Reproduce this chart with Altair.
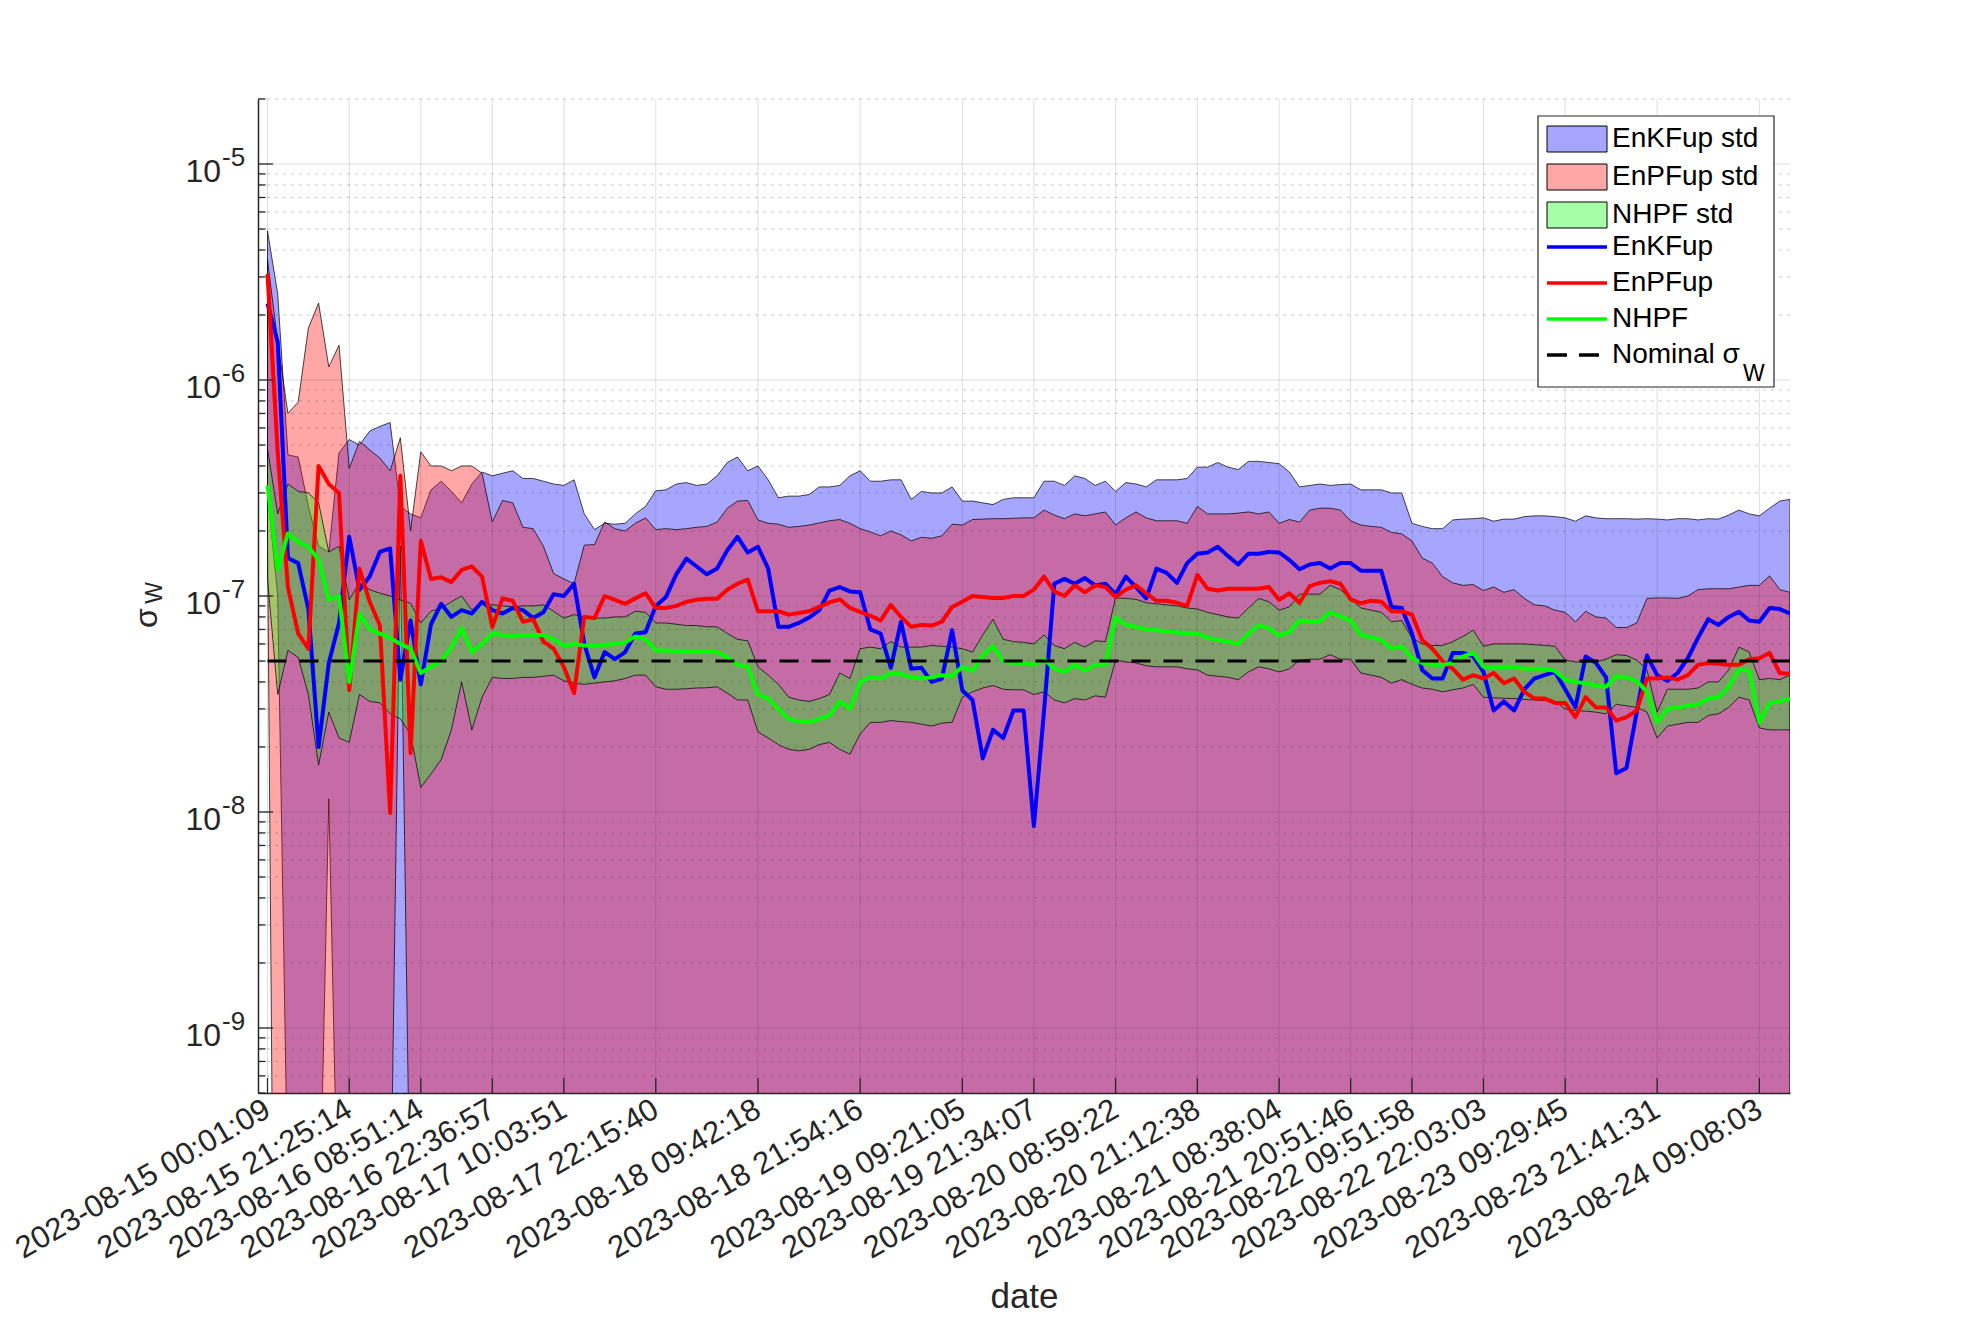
import altair as alt
import pandas as pd

FONT = "Liberation Sans"
N = 150
idx = list(range(N))

# ---- series (sample index 0..149) ----
enkf = [2.26e-6, 1.5e-6, 1.5e-7, 1.42e-7, 8.7e-8, 2.0e-8, 4.9e-8, 7.5e-8, 1.88e-7, 1.07e-7,
        1.23e-7, 1.6e-7, 1.66e-7, 4.1e-8, 7.7e-8, 3.9e-8, 7.4e-8, 9.2e-8, 8.0e-8, 8.6e-8,
        8.3e-8, 9.4e-8, 8.6e-8, 8.3e-8, 8.8e-8, 8.6e-8, 7.9e-8, 8.4e-8, 1.02e-7, 1.0e-7,
        1.14e-7, 6.0e-8, 4.2e-8, 5.5e-8, 5.1e-8, 5.5e-8, 6.7e-8, 6.8e-8, 9.0e-8, 9.9e-8,
        1.26e-7, 1.49e-7, 1.37e-7, 1.26e-7, 1.34e-7, 1.63e-7, 1.88e-7, 1.59e-7, 1.69e-7, 1.34e-7,
        7.2e-8, 7.2e-8, 7.5e-8, 7.95e-8, 8.6e-8, 1.06e-7, 1.1e-7, 1.05e-7, 1.04e-7, 7.0e-8,
        6.7e-8, 4.65e-8, 7.6e-8, 4.6e-8, 4.65e-8, 4.0e-8, 4.15e-8, 6.95e-8, 3.65e-8, 3.3e-8,
        1.77e-8, 2.4e-8, 2.2e-8, 2.95e-8, 2.95e-8, 8.6e-9, 2.95e-8, 1.14e-7, 1.2e-7, 1.14e-7,
        1.21e-7, 1.12e-7, 1.14e-7, 1.02e-7, 1.23e-7, 1.1e-7, 9.75e-8, 1.34e-7, 1.28e-7, 1.15e-7,
        1.42e-7, 1.57e-7, 1.59e-7, 1.69e-7, 1.53e-7, 1.4e-7, 1.57e-7, 1.57e-7, 1.6e-7, 1.59e-7,
        1.47e-7, 1.33e-7, 1.4e-7, 1.42e-7, 1.34e-7, 1.42e-7, 1.42e-7, 1.31e-7, 1.31e-7, 1.31e-7,
        8.9e-8, 8.8e-8, 6.7e-8, 4.55e-8, 4.15e-8, 4.15e-8, 5.45e-8, 5.45e-8, 5.25e-8, 4.45e-8,
        2.95e-8, 3.25e-8, 2.95e-8, 3.7e-8, 4.15e-8, 4.3e-8, 4.45e-8, 3.7e-8, 3.05e-8, 5.25e-8,
        4.9e-8, 4.2e-8, 1.51e-8, 1.6e-8, 2.9e-8, 5.3e-8, 4.3e-8, 4.05e-8, 4.4e-8, 5.15e-8,
        6.4e-8, 7.8e-8, 7.35e-8, 8.0e-8, 8.45e-8, 7.7e-8, 7.6e-8, 8.8e-8, 8.7e-8, 8.3e-8]

enpf = [3.1e-6, 4.6e-7, 1.1e-7, 6.7e-8, 5.7e-8, 4.0e-7, 3.3e-7, 3.0e-7, 3.67e-8, 1.34e-7,
        9.4e-8, 7.3e-8, 9.9e-9, 3.6e-7, 1.87e-8, 1.8e-7, 1.2e-7, 1.22e-7, 1.16e-7, 1.32e-7,
        1.37e-7, 1.23e-7, 7.2e-8, 9.75e-8, 9.5e-8, 7.6e-8, 7.8e-8, 6.15e-8, 5.7e-8, 4.7e-8,
        3.55e-8, 8.0e-8, 7.9e-8, 1.0e-7, 9.6e-8, 9.2e-8, 9.75e-8, 1.03e-7, 8.8e-8, 8.8e-8,
        9.0e-8, 9.4e-8, 9.6e-8, 9.7e-8, 9.7e-8, 1.07e-7, 1.14e-7, 1.19e-7, 8.5e-8, 8.5e-8,
        8.5e-8, 8.2e-8, 8.35e-8, 8.5e-8, 8.9e-8, 9.35e-8, 9.65e-8, 8.8e-8, 8.45e-8, 8.1e-8,
        7.7e-8, 9.1e-8, 8.0e-8, 7.2e-8, 7.35e-8, 7.3e-8, 7.6e-8, 8.9e-8, 9.4e-8, 1.0e-7,
        9.9e-8, 9.8e-8, 9.8e-8, 1.0e-7, 1.0e-7, 1.07e-7, 1.23e-7, 1.05e-7, 1.0e-7, 1.12e-7,
        1.04e-7, 1.12e-7, 1.1e-7, 9.9e-8, 1.07e-7, 1.12e-7, 1.03e-7, 9.5e-8, 9.5e-8, 9.3e-8,
        9.0e-8, 1.25e-7, 1.08e-7, 1.06e-7, 1.08e-7, 1.08e-7, 1.08e-7, 1.08e-7, 1.1e-7, 9.6e-8,
        1.03e-7, 9.3e-8, 1.11e-7, 1.15e-7, 1.17e-7, 1.14e-7, 9.65e-8, 9.25e-8, 9.5e-8, 9.4e-8,
        8.5e-8, 8.5e-8, 8.2e-8, 6.25e-8, 5.7e-8, 5.0e-8, 4.6e-8, 4.1e-8, 4.3e-8, 4.15e-8,
        4.4e-8, 3.95e-8, 4.15e-8, 3.6e-8, 3.35e-8, 3.35e-8, 3.2e-8, 3.2e-8, 2.75e-8, 3.4e-8,
        3.05e-8, 3.05e-8, 2.65e-8, 2.75e-8, 2.95e-8, 4.15e-8, 4.15e-8, 4.2e-8, 4.1e-8, 4.3e-8,
        4.8e-8, 4.9e-8, 4.85e-8, 4.8e-8, 4.8e-8, 5.1e-8, 5.15e-8, 5.45e-8, 4.4e-8, 4.35e-8]

nhpf = [3.26e-7, 1.32e-7, 1.95e-7, 1.78e-7, 1.69e-7, 1.47e-7, 9.6e-8, 1.0e-7, 4.0e-8, 8.3e-8,
        7.0e-8, 6.7e-8, 6.4e-8, 6.0e-8, 5.7e-8, 4.4e-8, 4.7e-8, 5.0e-8, 5.8e-8, 7.1e-8,
        5.5e-8, 6.0e-8, 6.7e-8, 6.6e-8, 6.5e-8, 6.6e-8, 6.6e-8, 6.6e-8, 6.3e-8, 5.9e-8,
        6.0e-8, 5.9e-8, 5.9e-8, 5.95e-8, 6.0e-8, 6.1e-8, 6.5e-8, 6.3e-8, 5.6e-8, 5.6e-8,
        5.55e-8, 5.5e-8, 5.5e-8, 5.5e-8, 5.5e-8, 5.2e-8, 4.8e-8, 4.7e-8, 3.5e-8, 3.35e-8,
        3.0e-8, 2.7e-8, 2.62e-8, 2.6e-8, 2.7e-8, 2.8e-8, 3.25e-8, 3.0e-8, 4.0e-8, 4.2e-8,
        4.15e-8, 4.4e-8, 4.35e-8, 4.2e-8, 4.15e-8, 4.2e-8, 4.3e-8, 4.25e-8, 4.7e-8, 4.5e-8,
        5.3e-8, 5.85e-8, 5.0e-8, 4.9e-8, 4.9e-8, 4.8e-8, 5.1e-8, 4.6e-8, 4.45e-8, 4.8e-8,
        4.5e-8, 4.8e-8, 4.8e-8, 7.95e-8, 7.35e-8, 7.2e-8, 7.0e-8, 6.95e-8, 6.85e-8, 6.8e-8,
        6.7e-8, 6.7e-8, 6.4e-8, 6.25e-8, 6.15e-8, 6.0e-8, 6.7e-8, 7.3e-8, 7.1e-8, 6.55e-8,
        6.8e-8, 7.7e-8, 7.65e-8, 7.65e-8, 8.4e-8, 8.05e-8, 7.7e-8, 6.6e-8, 6.45e-8, 6.25e-8,
        5.7e-8, 5.85e-8, 5.15e-8, 4.9e-8, 4.8e-8, 4.8e-8, 4.9e-8, 5.25e-8, 5.45e-8, 4.7e-8,
        4.65e-8, 4.7e-8, 4.7e-8, 4.6e-8, 4.6e-8, 4.6e-8, 4.5e-8, 4.1e-8, 4.0e-8, 3.95e-8,
        3.85e-8, 3.8e-8, 4.25e-8, 4.2e-8, 4.05e-8, 3.6e-8, 2.6e-8, 3.0e-8, 3.05e-8, 3.1e-8,
        3.15e-8, 3.35e-8, 3.4e-8, 3.8e-8, 4.55e-8, 4.5e-8, 2.6e-8, 3.2e-8, 3.25e-8, 3.35e-8]

enkf_hi = [4.9e-6, 2.5e-6, 4.5e-7, 4.4e-7, 2.6e-7, 1.7e-7, 1.6e-7, 4.6e-7, 5.3e-7, 5.0e-7,
           5.8e-7, 6.1e-7, 6.35e-7, 2.6e-7, 2.4e-7, 2.3e-7, 3.1e-7, 3.4e-7, 3.05e-7, 2.7e-7,
           3.3e-7, 3.75e-7, 3.6e-7, 3.7e-7, 3.8e-7, 3.5e-7, 3.5e-7, 3.4e-7, 3.3e-7, 3.25e-7,
           3.45e-7, 2.4e-7, 2.03e-7, 2.17e-7, 2.15e-7, 2.17e-7, 2.4e-7, 2.6e-7, 3.07e-7, 3.1e-7,
           3.3e-7, 3.35e-7, 3.25e-7, 3.3e-7, 3.6e-7, 4.15e-7, 4.4e-7, 3.8e-7, 4.0e-7, 3.45e-7,
           2.85e-7, 2.9e-7, 2.9e-7, 2.95e-7, 3.2e-7, 3.2e-7, 3.25e-7, 3.6e-7, 3.8e-7, 3.4e-7,
           3.4e-7, 3.45e-7, 3.45e-7, 2.8e-7, 3.05e-7, 3.0e-7, 3.0e-7, 3.2e-7, 2.75e-7, 2.75e-7,
           2.7e-7, 2.65e-7, 2.8e-7, 2.85e-7, 2.85e-7, 2.85e-7, 3.4e-7, 3.4e-7, 3.25e-7, 3.6e-7,
           3.5e-7, 3.25e-7, 3.4e-7, 3.05e-7, 3.35e-7, 3.3e-7, 3.2e-7, 3.45e-7, 3.45e-7, 3.45e-7,
           3.5e-7, 3.95e-7, 3.95e-7, 4.15e-7, 3.95e-7, 3.85e-7, 4.2e-7, 4.2e-7, 4.15e-7, 4.1e-7,
           3.75e-7, 3.2e-7, 3.25e-7, 3.3e-7, 3.25e-7, 3.28e-7, 3.3e-7, 3.1e-7, 3.1e-7, 3.1e-7,
           3.0e-7, 3.0e-7, 2.17e-7, 2.1e-7, 2.05e-7, 2.05e-7, 2.25e-7, 2.27e-7, 2.28e-7, 2.3e-7,
           2.22e-7, 2.27e-7, 2.27e-7, 2.33e-7, 2.35e-7, 2.35e-7, 2.33e-7, 2.3e-7, 2.22e-7, 2.35e-7,
           2.3e-7, 2.28e-7, 2.28e-7, 2.28e-7, 2.27e-7, 2.28e-7, 2.27e-7, 2.25e-7, 2.28e-7, 2.28e-7,
           2.25e-7, 2.28e-7, 2.27e-7, 2.37e-7, 2.5e-7, 2.4e-7, 2.35e-7, 2.55e-7, 2.75e-7, 2.8e-7]

enpf_hi = [3.6e-6, 1.5e-6, 7.0e-7, 7.9e-7, 1.74e-6, 2.27e-6, 1.15e-6, 1.45e-6, 3.9e-7, 5.2e-7,
           4.75e-7, 4.35e-7, 3.8e-7, 5.4e-7, 2.0e-7, 4.65e-7, 4.0e-7, 4.0e-7, 3.8e-7, 4.0e-7,
           4.0e-7, 3.7e-7, 2.2e-7, 2.77e-7, 2.7e-7, 2.08e-7, 2.05e-7, 1.7e-7, 1.27e-7, 1.2e-7,
           1.14e-7, 1.72e-7, 1.73e-7, 2.2e-7, 2.05e-7, 2.0e-7, 2.17e-7, 2.3e-7, 2.03e-7, 2.05e-7,
           2.03e-7, 2.05e-7, 2.08e-7, 2.1e-7, 2.2e-7, 2.55e-7, 2.75e-7, 2.77e-7, 2.25e-7, 2.17e-7,
           2.15e-7, 2.08e-7, 2.1e-7, 2.13e-7, 2.18e-7, 2.23e-7, 2.26e-7, 2.17e-7, 2.05e-7, 1.98e-7,
           1.9e-7, 2.0e-7, 1.92e-7, 1.8e-7, 1.87e-7, 1.85e-7, 1.9e-7, 2.15e-7, 2.13e-7, 2.26e-7,
           2.27e-7, 2.28e-7, 2.28e-7, 2.29e-7, 2.3e-7, 2.3e-7, 2.5e-7, 2.37e-7, 2.28e-7, 2.4e-7,
           2.35e-7, 2.4e-7, 2.45e-7, 2.13e-7, 2.3e-7, 2.45e-7, 2.3e-7, 2.23e-7, 2.23e-7, 2.23e-7,
           2.17e-7, 2.6e-7, 2.4e-7, 2.4e-7, 2.4e-7, 2.42e-7, 2.45e-7, 2.4e-7, 2.45e-7, 2.17e-7,
           2.26e-7, 2.2e-7, 2.5e-7, 2.55e-7, 2.55e-7, 2.5e-7, 2.23e-7, 2.13e-7, 2.1e-7, 2.08e-7,
           1.97e-7, 1.94e-7, 1.8e-7, 1.5e-7, 1.42e-7, 1.23e-7, 1.15e-7, 1.12e-7, 1.13e-7, 1.06e-7,
           1.1e-7, 1.04e-7, 1.07e-7, 9.75e-8, 9.1e-8, 9.0e-8, 8.6e-8, 8.4e-8, 7.6e-8, 8.5e-8,
           8.0e-8, 7.9e-8, 7.15e-8, 7.15e-8, 7.5e-8, 9.75e-8, 9.8e-8, 9.8e-8, 9.75e-8, 1.0e-7,
           1.07e-7, 1.08e-7, 1.08e-7, 1.08e-7, 1.1e-7, 1.12e-7, 1.12e-7, 1.24e-7, 1.07e-7, 1.04e-7]

nhpf_hi = [4.8e-7, 2.4e-7, 3.3e-7, 3.05e-7, 3.0e-7, 2.7e-7, 1.6e-7, 1.7e-7, 9.6e-8, 1.15e-7,
           1.07e-7, 1.03e-7, 1.0e-7, 9.6e-8, 9.25e-8, 7.5e-8, 8.5e-8, 8.8e-8, 9.4e-8, 1.0e-7,
           8.6e-8, 9.3e-8, 9.1e-8, 9.0e-8, 8.9e-8, 9.0e-8, 9.0e-8, 9.1e-8, 8.5e-8, 7.9e-8,
           8.2e-8, 8.0e-8, 7.9e-8, 7.9e-8, 8.0e-8, 8.0e-8, 8.5e-8, 8.4e-8, 7.5e-8, 7.5e-8,
           7.4e-8, 7.3e-8, 7.3e-8, 7.2e-8, 7.2e-8, 6.7e-8, 6.3e-8, 6.2e-8, 4.7e-8, 4.3e-8,
           3.9e-8, 3.4e-8, 3.3e-8, 3.25e-8, 3.35e-8, 3.5e-8, 4.4e-8, 4.15e-8, 5.7e-8, 5.8e-8,
           5.7e-8, 6.15e-8, 5.8e-8, 5.8e-8, 5.8e-8, 5.9e-8, 5.85e-8, 5.8e-8, 5.7e-8, 5.5e-8,
           6.6e-8, 7.8e-8, 6.3e-8, 6.15e-8, 6.1e-8, 6.0e-8, 6.6e-8, 5.9e-8, 5.7e-8, 6.1e-8,
           5.8e-8, 6.2e-8, 6.15e-8, 9.8e-8, 9.75e-8, 9.65e-8, 9.3e-8, 9.2e-8, 9.1e-8, 9.0e-8,
           8.8e-8, 8.7e-8, 8.4e-8, 8.2e-8, 8.0e-8, 7.9e-8, 8.8e-8, 9.75e-8, 9.4e-8, 8.6e-8,
           8.9e-8, 1.02e-7, 1.02e-7, 1.02e-7, 1.12e-7, 1.07e-7, 9.75e-8, 8.8e-8, 8.6e-8, 8.4e-8,
           7.6e-8, 7.7e-8, 6.4e-8, 6.0e-8, 5.9e-8, 5.9e-8, 6.15e-8, 6.5e-8, 6.95e-8, 5.85e-8,
           6.0e-8, 6.0e-8, 6.0e-8, 6.0e-8, 5.95e-8, 5.9e-8, 5.85e-8, 5.05e-8, 4.95e-8, 4.95e-8,
           4.95e-8, 5.1e-8, 5.35e-8, 5.3e-8, 5.05e-8, 4.55e-8, 2.9e-8, 3.7e-8, 3.7e-8, 3.7e-8,
           3.75e-8, 4.0e-8, 4.0e-8, 4.55e-8, 5.8e-8, 5.5e-8, 4.1e-8, 4.15e-8, 4.1e-8, 4.3e-8]

nhpf_lo = [1.2e-7, 3.5e-8, 5.6e-8, 5.2e-8, 3.5e-8, 1.65e-8, 2.9e-8, 2.2e-8, 2.1e-8, 3.5e-8,
           3.25e-8, 3.2e-8, 2.85e-8, 2.7e-8, 2.3e-8, 1.3e-8, 1.5e-8, 1.75e-8, 2.4e-8, 4.0e-8,
           2.4e-8, 3.4e-8, 4.2e-8, 4.15e-8, 4.15e-8, 4.2e-8, 4.2e-8, 4.25e-8, 4.3e-8, 4.05e-8,
           3.95e-8, 3.9e-8, 3.95e-8, 4.0e-8, 4.05e-8, 4.15e-8, 4.3e-8, 4.3e-8, 3.8e-8, 3.7e-8,
           3.7e-8, 3.72e-8, 3.75e-8, 3.76e-8, 3.8e-8, 3.55e-8, 3.3e-8, 3.3e-8, 2.35e-8, 2.2e-8,
           2.05e-8, 1.95e-8, 1.92e-8, 1.95e-8, 2.05e-8, 2.1e-8, 1.95e-8, 1.85e-8, 2.3e-8, 2.6e-8,
           2.6e-8, 2.65e-8, 2.62e-8, 2.6e-8, 2.55e-8, 2.5e-8, 2.58e-8, 2.6e-8, 3.4e-8, 3.6e-8,
           3.75e-8, 3.85e-8, 3.7e-8, 3.68e-8, 3.68e-8, 3.5e-8, 3.6e-8, 3.3e-8, 3.2e-8, 3.35e-8,
           3.3e-8, 3.45e-8, 3.4e-8, 5.05e-8, 4.95e-8, 4.9e-8, 4.75e-8, 4.7e-8, 4.7e-8, 4.7e-8,
           4.6e-8, 4.55e-8, 4.3e-8, 4.25e-8, 4.2e-8, 4.1e-8, 4.45e-8, 4.7e-8, 4.6e-8, 4.45e-8,
           4.6e-8, 5.05e-8, 5.1e-8, 5.1e-8, 5.35e-8, 5.1e-8, 5.1e-8, 4.4e-8, 4.3e-8, 4.2e-8,
           3.95e-8, 4.1e-8, 3.9e-8, 3.75e-8, 3.7e-8, 3.6e-8, 3.68e-8, 3.75e-8, 3.9e-8, 3.4e-8,
           3.38e-8, 3.36e-8, 3.35e-8, 3.32e-8, 3.3e-8, 3.28e-8, 3.25e-8, 3.0e-8, 2.95e-8, 2.93e-8,
           2.9e-8, 2.85e-8, 3.15e-8, 3.1e-8, 3.05e-8, 2.9e-8, 2.2e-8, 2.5e-8, 2.55e-8, 2.6e-8,
           2.6e-8, 2.8e-8, 2.85e-8, 3.05e-8, 3.4e-8, 3.3e-8, 2.45e-8, 2.4e-8, 2.4e-8, 2.4e-8]

# lower std bounds of EnKFup / EnPFup: below the axis (mean - std <= ~0) except these samples
OFF_SCALE = 1e-14
enkf_lo_pts = {0: 3e-7, 1: 1e-7, 2: 1.6e-10, 5: 7e-11, 6: 1.15e-8, 7: 7e-11}
enpf_lo_pts = {0: 2e-7, 1: 2e-13, 12: 9e-11, 13: 1.7e-7, 14: 9e-11}
enkf_lo = [enkf_lo_pts.get(i, OFF_SCALE) for i in idx]
enpf_lo = [enpf_lo_pts.get(i, OFF_SCALE) for i in idx]
nominal_sigma = 5e-8

for arr in (enkf, enpf, nhpf, enkf_hi, enpf_hi, nhpf_hi, nhpf_lo):
    assert len(arr) == N, len(arr)

xtick_idx = [0, 8, 15, 22, 29, 38, 48, 58, 68, 75, 83, 91, 99, 106, 112, 119, 127, 136, 146]
xtick_labels = ["2023-08-15 00:01:09", "2023-08-15 21:25:14", "2023-08-16 08:51:14",
                "2023-08-16 22:36:57", "2023-08-17 10:03:51", "2023-08-17 22:15:40",
                "2023-08-18 09:42:18", "2023-08-18 21:54:16", "2023-08-19 09:21:05",
                "2023-08-19 21:34:07", "2023-08-20 08:59:22", "2023-08-20 21:12:38",
                "2023-08-21 08:38:04", "2023-08-21 20:51:46", "2023-08-22 09:51:58",
                "2023-08-22 22:03:03", "2023-08-23 09:29:45", "2023-08-23 21:41:31",
                "2023-08-24 09:08:03"]
ytick_vals = [1e-9, 1e-8, 1e-7, 1e-6, 1e-5]
ytick_base = ["10", "10", "10", "10", "10"]
ytick_exp = ["-9", "-8", "-7", "-6", "-5"]
minor_mult = [2, 3, 4, 5, 6, 7, 8, 9]
decades = [1e-10, 1e-9, 1e-8, 1e-7, 1e-6, 1e-5]
ymin_vals = [m * d for d in decades for m in minor_mult if 4.99e-10 <= m * d <= 2.01e-5]

std_names = ["EnKFup std", "EnPFup std", "NHPF std"]
std_colors = ["#0000ff", "#ff0000", "#00ff00"]
std_swatch = ["#a6a6ff", "#ffa6a6", "#a6ffa6"]
line_names = ["EnKFup", "EnPFup", "NHPF", "Nominal σ"]
line_colors = ["#0000ff", "#ff0000", "#00ff00", "#000000"]
line_dashes = [[1, 0], [1, 0], [1, 0], [20, 12]]

df = pd.DataFrame({
    "i": idx, "enkf": enkf, "enpf": enpf, "nhpf": nhpf,
    "enkf_hi": enkf_hi, "enkf_lo": enkf_lo, "enpf_hi": enpf_hi, "enpf_lo": enpf_lo,
    "nhpf_hi": nhpf_hi, "nhpf_lo": nhpf_lo, "nominal": [nominal_sigma] * N,
})

W, H = 1532, 994
AX = "#262626"
xs = alt.Scale(domain=[-0.93, 149.0], nice=False, zero=False)
ys = alt.Scale(type="log", domain=[5e-10, 2e-5], nice=False)
cs = alt.Scale(domain=std_names + line_names, range=std_colors + line_colors)

label_expr = ("[" + ",".join("'%s'" % s for s in xtick_labels) + "][indexof(["
              + ",".join(str(v) for v in xtick_idx) + "], datum.value)]")

x_axis = alt.Axis(values=xtick_idx, labelExpr=label_expr, labelAngle=330, labelAlign="right",
                  labelBaseline="middle", labelFont=FONT, labelFontSize=31, labelColor=AX,
                  labelPadding=14, labelOffset=0, labelFlush=False, labelOverlap=False,
                  labelLimit=1000, ticks=False, tickSize=0, grid=False, domainColor=AX,
                  domainWidth=1.5, title="date", titleFont=FONT, titleFontSize=35,
                  titleFontWeight="normal", titleColor=AX, titleBaseline="alphabetic",
                  titleY=214)
y_axis = alt.Axis(labels=False, ticks=False, grid=False, domainColor=AX, domainWidth=1.5, title=None)

X = alt.X("i:Q", scale=xs, axis=x_axis)
XT = alt.X("t:Q", scale=xs, axis=x_axis)


def Y(f):
    return alt.Y(f + ":Q", scale=ys, axis=y_axis)


C = alt.Color("series:N", scale=cs, legend=None)

# legend box (page coords: 1538..1774 x 116..387)
LEG_X, LEG_Y, LEG_W, LEG_H = 1280, 17, 236, 271
SYM_LEFT = LEG_X + 9          # left edge of the 60 px wide legend symbols
common_leg = dict(title=None, orient="none", padding=0, rowPadding=8, labelOffset=21,
                  labelFont=FONT, labelFontSize=28, labelColor="#000000", labelLimit=400,
                  symbolSize=400)
legend_fill = alt.Legend(legendX=SYM_LEFT + 16, legendY=LEG_Y + 9,
                         symbolType="M-3,-1.3H3V1.3H-3Z", symbolStrokeColor="#000000",
                         symbolStrokeWidth=1, symbolOpacity=1, **common_leg)
legend_line = alt.Legend(legendX=SYM_LEFT + 16, legendY=LEG_Y + 9 + 3 * 36,
                         symbolType="M-3,0H3", symbolStrokeWidth=3.5, symbolOpacity=1,
                         **common_leg)


def band(hi, lo, name):
    return alt.Chart(df).transform_calculate(series="'%s'" % name).mark_area(
        fillOpacity=0.35, stroke="#000000", strokeWidth=0.8, strokeOpacity=0.9, clip=True
    ).encode(x=X, y=Y(hi), y2=alt.Y2(lo + ":Q"), color=C)


def line(f, name, **kw):
    props = dict(strokeWidth=4, clip=True, strokeJoin="round")
    props.update(kw)
    return alt.Chart(df).transform_calculate(series="'%s'" % name).mark_line(**props).encode(
        x=X, y=Y(f), color=C)


# legend carriers: placed outside the x-domain and clipped, they only feed the legends
leg_fill_df = pd.DataFrame({"series": std_names, "i": [-50] * 3, "v": [1e-7] * 3})
leg_line_df = pd.DataFrame({"series": line_names, "i": [-50] * 4, "v": [1e-7] * 4})
leg_fill = alt.Chart(leg_fill_df).mark_point(clip=True, filled=True, opacity=1).encode(
    x=X, y=Y("v"),
    fill=alt.Fill("series:N", scale=alt.Scale(domain=std_names, range=std_swatch),
                  legend=legend_fill))
leg_line = alt.Chart(leg_line_df).mark_line(clip=True).encode(
    x=X, y=Y("v"),
    stroke=alt.Stroke("series:N", scale=alt.Scale(domain=line_names, range=line_colors),
                      legend=legend_line),
    strokeDash=alt.StrokeDash("series:N", scale=alt.Scale(domain=line_names, range=line_dashes),
                              legend=legend_line))

ymaj_df = pd.DataFrame({"v": ytick_vals, "b": ytick_base, "e": ytick_exp})
ymin_df = pd.DataFrame({"v": ymin_vals})
xt_df = pd.DataFrame({"t": xtick_idx})

grid_major = alt.Chart(ymaj_df).mark_rule(color=AX, opacity=0.15, strokeWidth=1).encode(y=Y("v"))
grid_minor = alt.Chart(ymin_df).mark_rule(color=AX, opacity=0.25, strokeWidth=1,
                                          strokeDash=[3, 5]).encode(y=Y("v"))
grid_x = alt.Chart(xt_df).mark_rule(color=AX, opacity=0.15, strokeWidth=1).encode(x=XT)

tick_major = alt.Chart(ymaj_df).mark_rule(color=AX, strokeWidth=1.3).encode(
    y=Y("v"), x=alt.value(0), x2=alt.value(15))
tick_minor = alt.Chart(ymin_df).mark_rule(color=AX, strokeWidth=1.3).encode(
    y=Y("v"), x=alt.value(0), x2=alt.value(7.5))
tick_x = alt.Chart(xt_df).mark_rule(color=AX, strokeWidth=1.3).encode(
    x=XT, y=alt.value(H), y2=alt.value(H - 15))

ylab_base = alt.Chart(ymaj_df).mark_text(align="right", baseline="alphabetic", dy=18, font=FONT,
                                         fontSize=32, color=AX).encode(
    y=Y("v"), x=alt.value(-37), text="b:N")
ylab_exp = alt.Chart(ymaj_df).mark_text(align="left", baseline="alphabetic", dy=2, font=FONT,
                                        fontSize=26, color=AX).encode(
    y=Y("v"), x=alt.value(-36), text="e:N")

ytitle = alt.Chart(pd.DataFrame({"s": ["σ"]})).mark_text(
    angle=270, align="center", baseline="alphabetic", font=FONT, fontSize=32, color=AX
).encode(x=alt.value(-101), y=alt.value(519), text="s:N")
ytitle_sub = alt.Chart(pd.DataFrame({"s": ["W"]})).mark_text(
    angle=270, align="center", baseline="alphabetic", font=FONT, fontSize=23, color=AX
).encode(x=alt.value(-96), y=alt.value(494), text="s:N")

legend_box = alt.Chart(pd.DataFrame({"s": ["box"]})).mark_rect(
    fill="#ffffff", stroke=AX, strokeWidth=1.2
).encode(x=alt.value(LEG_X), x2=alt.value(LEG_X + LEG_W), y=alt.value(LEG_Y),
         y2=alt.value(LEG_Y + LEG_H))
legend_sub = alt.Chart(pd.DataFrame({"s": ["W"]})).mark_text(
    align="left", baseline="alphabetic", font=FONT, fontSize=23, color="#000000"
).encode(x=alt.value(1485), y=alt.value(282), text="s:N")

layers = [
    band("enkf_hi", "enkf_lo", "EnKFup std"),
    band("enpf_hi", "enpf_lo", "EnPFup std"),
    band("nhpf_hi", "nhpf_lo", "NHPF std"),
    grid_major, grid_minor, grid_x,
    line("enkf", "EnKFup"),
    line("enpf", "EnPFup"),
    line("nhpf", "NHPF"),
    line("nominal", "Nominal σ", strokeDash=[19, 13], strokeWidth=3),
    tick_major, tick_minor, tick_x,
    ylab_base, ylab_exp, ytitle, ytitle_sub,
    legend_box, leg_fill, leg_line, legend_sub,
]

chart = alt.layer(*layers).properties(
    width=W, height=H,
    padding={"left": 250, "top": 91, "right": 150, "bottom": 223},
    autosize=alt.AutoSizeParams(type="none"),
    background="white",
).configure_view(stroke=None)

chart.save("out.html", embed_options={"renderer": "svg", "actions": False})
